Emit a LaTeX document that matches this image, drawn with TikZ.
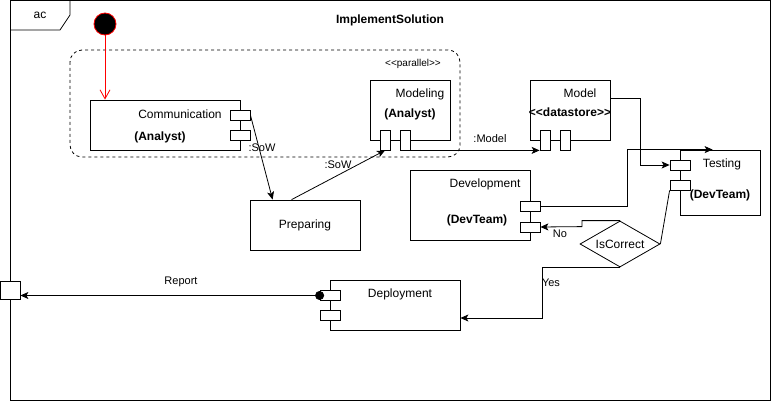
\documentclass[tikz,border=0pt]{standalone}
\usepackage{fontspec}
\setmainfont{Liberation Sans}[Ligatures=TeXOff]
\usepackage{tikz}
\usetikzlibrary{arrows,arrows.meta}
\usetikzlibrary{shapes,backgrounds}

\begin{document}
\begin{tikzpicture}[x=1pt,y=-1pt,->,>={Stealth[length=8pt,width=7pt,inset=2pt]},line width=0.8pt,
                    font=\fontsize{12}{14}\selectfont,
                    box/.style={draw,rectangle,inner sep=0pt},
                    port/.style={draw,fill=white,rectangle,inner sep=0pt,minimum width=20pt,minimum height=10pt},
                    vport/.style={port,minimum width=10pt,minimum height=20pt},
                    txt/.style={inner sep=0pt},
                    strong/.style={inner sep=0pt,font=\fontsize{12}{14}\selectfont\bfseries},
                    lbl/.style={inner sep=0pt,font=\fontsize{11}{13}\selectfont}]

  \useasboundingbox (0,0) rectangle (771,401);

  % frame
  \draw[-] (10,0.5) rectangle (770,400);
  \draw[-] (10,0.5) -- (70,0.5) -- (70,15) -- (60,30) -- (10,30);
  \node[txt] (tag) at (40,15) {ac};
  \node[strong] (title) at (390,20) {ImplementSolution};
  \node[draw,fill=white,minimum width=20pt,minimum height=18pt,inner sep=0pt] (fport) at (10,290) {};

  % parallel region
  \draw[-,dashed,dash pattern=on 3pt off 3pt,rounded corners=12pt] (70,50) rectangle (460,157);
  \node[txt,font=\fontsize{10}{12}\selectfont] (par) at (413,64) {<<parallel>>};

  % initial node
  \node[circle,draw=red,fill=black,minimum size=22pt,inner sep=0pt] (ini) at (105,24) {};

  % actions
  \node[box,minimum width=150pt,minimum height=50pt] (com) at (165,125) {};
  \node[port] (com-p1) at (240,115) {};
  \node[port] (com-p2) at (240,135) {};
  \node[txt] (com-t) at (180,114) {Communication};
  \node[strong] (com-r) at (160,137) {(Analyst)};

  \node[box,minimum width=80pt,minimum height=60pt] (mod) at (410,110) {};
  \node[vport] (mod-p1) at (385,140) {};
  \node[vport] (mod-p2) at (405,140) {};
  \node[txt] (mod-t) at (420,94) {Modeling};
  \node[strong] (mod-r) at (410,114) {(Analyst)};

  \node[box,minimum width=80pt,minimum height=60pt] (mdl) at (570,110) {};
  \node[vport] (mdl-p1) at (545,140) {};
  \node[vport] (mdl-p2) at (565,140) {};
  \node[txt] (mdl-t) at (580,93) {Model};
  \node[strong] (mdl-r) at (570,112) {<<datastore>>};

  \node[box,minimum width=110pt,minimum height=50pt] (prep) at (305,225) {Preparing};

  \node[box,minimum width=120pt,minimum height=70pt] (dev) at (470,205) {};
  \node[port] (dev-p1) at (530,206) {};
  \node[port] (dev-p2) at (530,227) {};
  \node[txt] (dev-t) at (485,184) {Development};
  \node[strong] (dev-r) at (477,220) {(DevTeam)};

  \node[box,minimum width=80pt,minimum height=65pt] (tst) at (720,182.5) {};
  \node[port] (tst-p1) at (680,165) {};
  \node[port] (tst-p2) at (680,185) {};
  \node[txt] (tst-t) at (722,164) {Testing};
  \node[strong] (tst-r) at (720,195) {(DevTeam)};

  \node[diamond,draw,inner sep=0pt,minimum width=80pt,minimum height=46pt] (dec) at (620,244) {};
  \node[txt] (dec-t) at (dec) {IsCorrect};

  \node[box,minimum width=130pt,minimum height=50pt] (dep) at (395,305) {};
  \node[port] (dep-p1) at (330,295.5) {};
  \node[port] (dep-p2) at (330,315.5) {};
  \node[txt] (dep-t) at (400,294) {Deployment};

  % flows
  \draw[red,-{Straight Barb[length=9pt,width=10pt,line width=0.8pt]}] (ini) -- (ini |- com.north);
  \draw (com-p1.east) -- ([xshift=23pt]prep.north west);
  \node[lbl] (sow1) at (262,148) {:SoW};
  \draw ([xshift=42pt]prep.north west) -- (mod-p1.south);
  \node[lbl] (sow2) at (338,165) {:SoW};
  \draw (mod-p2.south east) -- (mdl-p1.south west);
  \node[lbl] (mdlflow) at (490,139) {:Model};
  \draw ([yshift=12pt]mdl.east) -- ++(30,0) |- (tst-p1.west);
  \draw (dev-p1.east) -- ++(87,0) |- ([xshift=33pt]tst.north west);
  \draw[-] (tst-p2.south west) -- (dec.east);
  \draw (dec.north) -- ++(-38,0) -- ++(0,6) -- (dev-p2.east);
  \node[lbl] (no) at (560,234) {No};
  \draw (dec.south) -- ++(-78,0) |- ([yshift=-13pt]dep.east);
  \node[lbl] (yes) at (551,283) {Yes};
  \draw[{Circle[length=9pt,sep=-4.5pt]}->] (dep-p1.west) -- (dep-p1.west -| fport.east);
  \node[lbl] (rep) at (181,282) {Report};
\end{tikzpicture}
\end{document}
